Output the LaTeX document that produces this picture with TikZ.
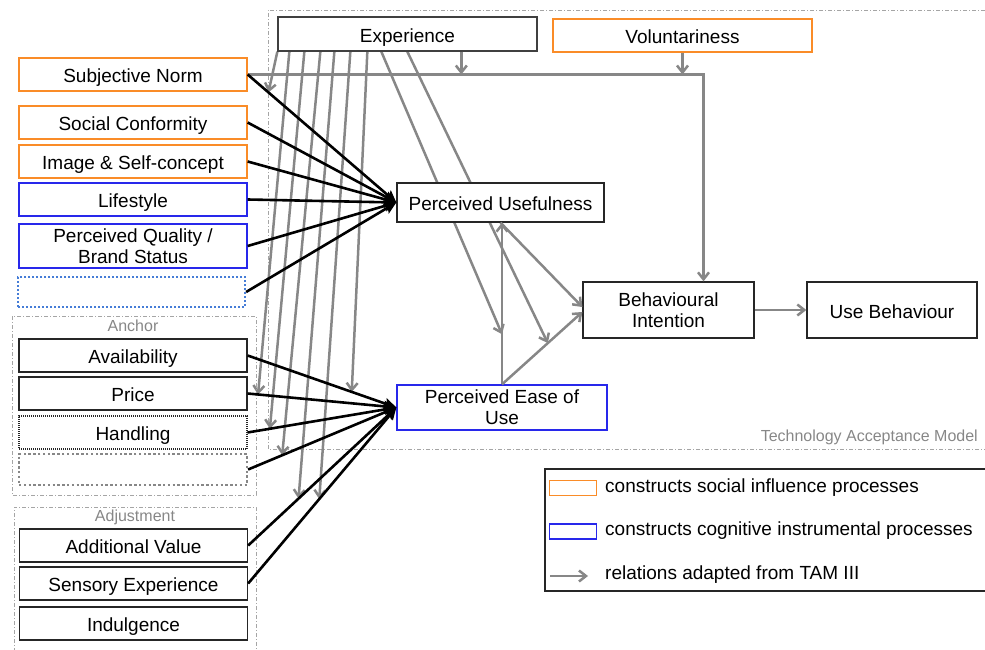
\documentclass[tikz,border=0pt]{standalone}
\usepackage{fontspec}
\setmainfont{Liberation Sans}
\usetikzlibrary{arrows.meta,calc,backgrounds,positioning}

\definecolor{tamorange}{RGB}{250,140,40}
\definecolor{tamblue}{RGB}{40,40,235}
\definecolor{tamgray}{RGB}{135,135,135}
\definecolor{framegray}{RGB}{165,165,165}
\definecolor{dotblue}{RGB}{70,125,215}

\tikzstyle{construct}=[rectangle,draw=black!85,line width=1.3pt,fill=white,minimum width=228pt,minimum height=33pt,inner sep=0pt,align=center,text height=16.2pt,text depth=0pt,font=\fontsize{19}{21}\selectfont]
\tikzstyle{twoline}=[text height={},text depth={}]
\tikzstyle{social}=[construct,draw=tamorange]
\tikzstyle{cognitive}=[construct,draw=tamblue]
\tikzstyle{legbox}=[rectangle,fill=white,line width=1.3pt,minimum width=47pt,minimum height=15pt,inner sep=0pt]
\tikzstyle{tamrel}=[draw=tamgray,line width=2.5pt,-{Straight Barb[length=7pt,width=11pt]}]
\tikzstyle{infl}=[draw=black,line width=2.6pt,-{Stealth[length=12pt,width=11pt,inset=2pt]}]
\tikzstyle{groupframe}=[draw=framegray,line width=0.9pt,dash pattern=on 4pt off 2pt on 1pt off 2pt]
\tikzstyle{framelabel}=[text=tamgray,font=\fontsize{16}{18}\selectfont,inner sep=0pt]
\tikzstyle{legendtext}=[anchor=west,inner sep=0pt,font=\fontsize{19}{21}\selectfont]

\begin{document}
\begin{tikzpicture}[x=1pt,y=-1pt]
    \useasboundingbox (0,0) rectangle (985,650);

    % top row
    \node[construct, minimum width=259pt, minimum height=34pt, draw=black!75] (exp) at (407.5,34) {Experience};
    \node[social, minimum width=259pt] (vol) at (682.5,35.5) {Voluntariness};

    % social influence / cognitive constructs
    \foreach \name/\y/\txt in {sn/74.5/Subjective Norm, sc/122.5/Social Conformity, isc/161.5/Image \& Self-concept}
        \node[social] (\name) at (133,\y) {\txt};
    \node[cognitive] (ls) at (133,199.5) {Lifestyle};
    \node[cognitive, twoline, minimum height=44pt] (pq) at (133,246) {Perceived Quality /\\Brand Status};
    \node[construct, draw=dotblue, line width=2.2pt, dash pattern=on 2pt off 2pt, minimum width=227pt, minimum height=30pt] (blanka) at (131.5,292) {};

    % anchor
    \draw[groupframe] (12,316) rectangle (256,495);
    \node[framelabel] (anchorlbl) at (133,326) {Anchor};
    \foreach \name/\y/\txt in {av/355.5/Availability, pr/393.5/Price}
        \node[construct] (\name) at (133,\y) {\txt};
    \node[construct, line width=1.1pt, dash pattern=on 1pt off 1pt] (ha) at (133,432.5) {Handling};
    \node[construct, draw=tamgray, line width=2.2pt, dash pattern=on 2.4pt off 2.4pt, minimum height=31pt] (blankb) at (133,469.5) {};

    % adjustment
    \draw[groupframe] (14,652) -- (14,507) -- (256,507) -- (256,652);
    \node[framelabel] (adjlbl) at (135,517) {Adjustment};
    \foreach \name/\y/\txt in {adv/545.5/Additional Value, se/583.5/Sensory Experience, ind/623.5/Indulgence}
        \node[construct] (\name) at (133.5,\y) {\txt};

    % TAM
    \node[construct, minimum width=207pt, minimum height=39pt] (pu) at (500.5,202.5) {Perceived Usefulness};
    \node[cognitive, twoline, minimum width=210pt, minimum height=45pt] (peou) at (502,407.5) {Perceived Ease of\\Use};
    \node[construct, twoline, minimum width=171pt, minimum height=56pt] (bi) at (668.5,310) {Behavioural\\Intention};
    \node[construct, minimum width=170pt, minimum height=56pt] (ub) at (892,310) {Use Behaviour};
    \node[framelabel, anchor=east] (tamlbl) at (978,437) {Technology Acceptance Model};

    \coordinate (bitop) at ($(bi.north)+(35,0)$);
    \coordinate (bihigh) at ($(bi.west)+(0,-3)$);
    \coordinate (bilow) at ($(bi.west)+(0,2)$);
    \coordinate (pusb) at (peou.north |- pu.south);
    \coordinate (exptop) at ($(exp.south west)+(184,0)$);

    \begin{scope}[on background layer]
        \draw[groupframe] (985,10) -- (268,10) -- (268,449) -- (985,449);
        \coordinate (m1) at ($(sn.east)!0.14!(pu.west)$);
        \coordinate (m2) at ($(pr.east)!0.07!(peou.west)$);
        \coordinate (m3) at ($(ha.east)!0.15!(peou.west)$);
        \coordinate (m4) at ($(blankb.east)!0.23!(peou.west)$);
        \coordinate (m5) at ($(adv.east)!0.34!(peou.west)$);
        \coordinate (m6) at ($(se.east)!0.48!(peou.west)$);
        \coordinate (m7) at ($(av.east)!0.7!(peou.west)$);
        \coordinate (m8) at ($(peou.north)!0.31!(pusb)$);
        \coordinate (m9) at ($(peou.north)!0.57!(bilow)$);
        \foreach \dx/\tgt in {0/m1, 12/m2, 27/m3, 43/m4, 57/m5, 73/m6, 90/m7, 104/m8, 130/m9}
            \draw[tamrel] ($(exp.south west)+(\dx,0)$) -- (\tgt);
    \end{scope}

    \draw[tamrel] (sn.east) -| (bitop);
    \draw[tamrel] (exptop) -- (exptop |- sn.east);
    \draw[tamrel] (vol.south) -- (vol.south |- sn.east);

    \foreach \src in {sn,sc,isc,ls,pq,blanka}
        \draw[infl] (\src.east) -- (pu.west);
    \foreach \src in {av,pr,ha,blankb,adv,se}
        \draw[infl] (\src.east) -- (peou.west);

    \draw[tamrel] (peou.north) -- (pusb);
    \draw[tamrel] (pu.south) -- (bihigh);
    \draw[tamrel] (peou.north) -- (bilow);
    \draw[tamrel] (bi.east) -- (ub.west);

    % legend
    \draw[draw=black!85, line width=1.1pt] (985,469) -- (545,469) -- (545,591) -- (985,591);
    \node[legbox, draw=tamorange] (legsoc) at (573,488) {};
    \node[legbox, draw=tamblue] (legcog) at (573,531.5) {};
    \node[legendtext] (legsoctxt) at (605,488) {constructs social influence processes};
    \node[legendtext] (legcogtxt) at (605,531) {constructs cognitive instrumental processes};
    \node[legendtext] (legreltxt) at (605,575) {relations adapted from TAM III};
    \coordinate (legarr) at (550,576);
    \draw[tamrel] (legarr) -- ($(legreltxt.west)+(-17,1)$);
\end{tikzpicture}
\end{document}
